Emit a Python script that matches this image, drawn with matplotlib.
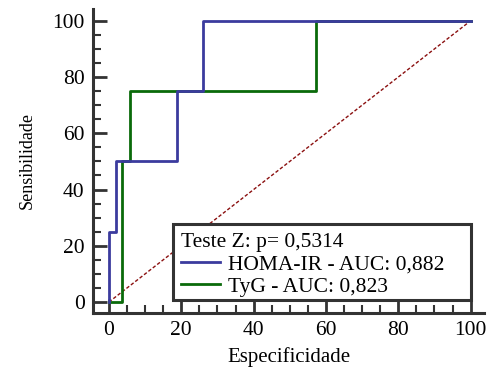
import matplotlib
matplotlib.use("Agg")
import matplotlib.pyplot as plt
from matplotlib.ticker import MultipleLocator
from matplotlib.patches import Rectangle

# Data
homa_x = [0, 0, 2, 2, 18.75, 18.75, 26, 26, 100]
homa_y = [0, 25, 25, 50, 50, 75, 75, 100, 100]
tyg_x = [0, 3.5, 3.5, 5.8, 5.8, 57.3, 57.3, 100]
tyg_y = [0, 0, 50, 50, 75, 75, 100, 100]
diag = [0, 100]
legend_title = "Teste Z: p= 0,5314"
labels = ["HOMA-IR - AUC: 0,882", "TyG - AUC: 0,823"]
ticks = [0, 20, 40, 60, 80, 100]

plt.rcParams['font.family'] = ['Liberation Serif', 'DejaVu Serif']

fig = plt.figure(figsize=(4.88, 3.71), dpi=100)
ax = fig.add_axes([0.1906, 0.1563, 0.802, 0.8203])

spine_c = '#333333'
ax.plot(diag, diag, color='#8b1010', lw=1.0, ls=(0, (2.5, 1.5)), zorder=1)
l1, = ax.plot(homa_x, homa_y, color='#3b3b9e', lw=2.0, zorder=3)
l2, = ax.plot(tyg_x, tyg_y, color='#0a6a0a', lw=2.0, zorder=2)

ax.set_xlim(-4.4, 103.8)
ax.set_ylim(-3.9, 104.3)
ax.set_xticks(ticks)
ax.set_yticks(ticks)
ax.xaxis.set_minor_locator(MultipleLocator(5))
ax.yaxis.set_minor_locator(MultipleLocator(5))
ax.tick_params(which='major', direction='in', length=10, width=2, color=spine_c,
               labelsize=15.5, pad=6)
ax.tick_params(which='minor', direction='in', length=6, width=1.5, color=spine_c)
for s in ['top', 'right']:
    ax.spines[s].set_visible(False)
for s in ['left', 'bottom']:
    ax.spines[s].set_linewidth(2.2)
    ax.spines[s].set_color(spine_c)

ax.set_xlabel('Especificidade', fontsize=15, labelpad=5)
ax.set_ylabel('Sensibilidade', fontsize=13, labelpad=12)

# legend frame
box = Rectangle((17.7, 0.6), 82.3, 27.0, facecolor='white', edgecolor=spine_c,
                linewidth=2.2, zorder=4, clip_on=False)
ax.add_patch(box)

leg = ax.legend([l1, l2], labels, title=legend_title, loc='upper left',
                bbox_to_anchor=(20.0, 24.7), bbox_transform=ax.transData,
                borderaxespad=0, fontsize=15.5, title_fontsize=15.5, frameon=False,
                handlelength=1.8, handletextpad=0.35,
                borderpad=0, labelspacing=0.12)
leg._legend_box.align = 'left'
leg.set_zorder(5)

fig.savefig('out.png', dpi=100)
